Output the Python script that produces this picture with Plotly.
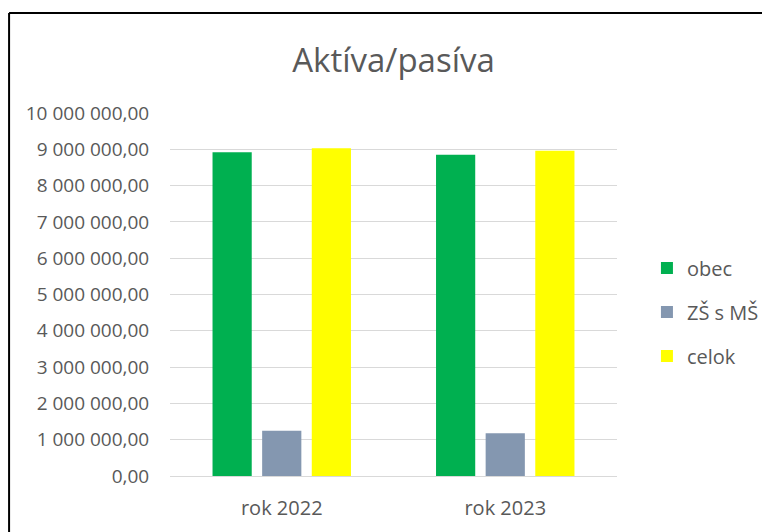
import plotly.graph_objects as go

roky = ['rok 2022', 'rok 2023']
obec = [8920000, 8850000]
zs_s_ms = [1250000, 1180000]
celok = [9030000, 8960000]

nazvy = ['obec', 'ZŠ s MŠ', 'celok']
farby = ['#00B050', '#8497B0', '#FFFF00']

TEXT = '#595959'
FONT = 'Open Sans'


def main():
    fig = go.Figure()
    for i, (nazov, hodnoty, farba) in enumerate(zip(nazvy, [obec, zs_s_ms, celok], farby)):
        fig.add_trace(go.Bar(x=roky, y=hodnoty, name=nazov, marker_color=farba,
                             marker_line_width=0, legendgroup=str(i)))

    # the page has an 8px body margin, margins are shifted to make up for it
    fig.update_layout(
        width=770, height=532,
        margin=dict(l=162, r=161, t=105, b=64),
        paper_bgcolor='white', plot_bgcolor='white',
        separators=', ',
        font=dict(family=FONT, size=19, color=TEXT),
        title=dict(text='Aktíva/pasíva', x=0.5, xref='paper', xanchor='center',
                   y=0.902, yanchor='middle', font=dict(size=33, color=TEXT)),
        barmode='group', bargap=0.334, bargroupgap=0.21,
        legend=dict(x=1.067, xanchor='left', y=0.452, yanchor='middle',
                    tracegroupgap=15, font=dict(size=20, color=TEXT)),
        showlegend=True,
    )
    fig.update_yaxes(range=[0, 10000000], dtick=1000000, tickformat=',.2f',
                     showgrid=True, gridcolor='#D9D9D9', gridwidth=1,
                     zeroline=False, showline=False,
                     ticks='outside', ticklen=16, tickcolor='rgba(0,0,0,0)')
    fig.update_xaxes(showline=True, linecolor='#D9D9D9', linewidth=1,
                     tickfont=dict(size=20),
                     ticks='outside', ticklen=14, tickcolor='rgba(0,0,0,0)')

    # black frame around the chart, only the left and top edges are on screen
    fig.add_shape(type='line', xref='paper', yref='paper',
                  x0=-0.36, x1=-0.36, y0=-1, y1=1.2755,
                  line=dict(color='black', width=2), layer='below')
    fig.add_shape(type='line', xref='paper', yref='paper',
                  x0=-0.36, x1=3, y0=1.2755, y1=1.2755,
                  line=dict(color='black', width=2), layer='below')

    fig.write_html('out.html', config={'displayModeBar': False})


if __name__ == '__main__':
    main()
